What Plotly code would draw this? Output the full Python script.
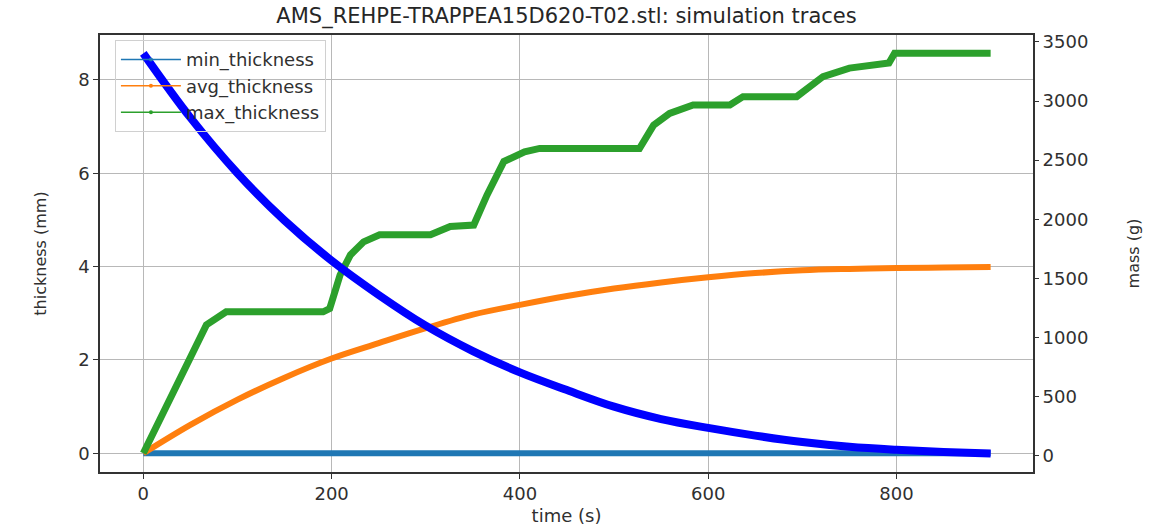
import plotly.graph_objects as go

# ---- data ----
time_s = [0, 50, 100, 150, 200, 250, 300, 350, 400, 450, 500, 550, 600, 650, 700, 750, 800, 850, 900]
min_thickness = [0] * len(time_s)
avg_thickness = [0, 0.61, 1.15, 1.62, 2.03, 2.36, 2.68, 2.97, 3.18, 3.37, 3.53, 3.66, 3.77, 3.86, 3.92, 3.95, 3.97, 3.98, 3.99]
mass_g = [3404, 2860, 2390, 1990, 1650, 1360, 1100, 885, 705, 555, 415, 310, 235, 170, 115, 75, 50, 32, 18]

max_time = [0, 67, 88, 191, 198, 209, 220, 234, 251, 305, 326, 351, 365, 383, 405, 421, 527, 542, 559, 584,
            623, 637, 694, 722, 750, 786, 792, 798, 900]
max_thickness = [0, 2.75, 3.03, 3.03, 3.10, 3.82, 4.25, 4.53, 4.68, 4.68, 4.86, 4.89, 5.53, 6.25, 6.46, 6.53,
                 6.53, 7.03, 7.28, 7.46, 7.46, 7.64, 7.64, 8.07, 8.25, 8.36, 8.36, 8.57, 8.57]

x_ticks = [0, 200, 400, 600, 800]
y_ticks = [0, 2, 4, 6, 8]
y2_ticks = [0, 500, 1000, 1500, 2000, 2500, 3000, 3500]

C_MIN = "#1f77b4"
C_AVG = "#ff7f0e"
C_MAX = "#2ca02c"
C_MASS = "#0000ff"

fig = go.Figure()

fig.add_trace(go.Scatter(x=time_s, y=min_thickness, mode="lines", line=dict(color=C_MIN, width=6),
                         showlegend=False, name="min_thickness"))
fig.add_trace(go.Scatter(x=time_s, y=avg_thickness, mode="lines", line=dict(color=C_AVG, width=6, shape="spline"),
                         showlegend=False, name="avg_thickness"))
fig.add_trace(go.Scatter(x=max_time, y=max_thickness, mode="lines", line=dict(color=C_MAX, width=7),
                         showlegend=False, name="max_thickness"))
fig.add_trace(go.Scatter(x=time_s, y=mass_g, mode="lines", line=dict(color=C_MASS, width=8, shape="spline"),
                         yaxis="y2", showlegend=False, name="mass"))

# legend entries (thin lines with small markers like matplotlib)
for name, col in [("min_thickness", C_MIN), ("avg_thickness", C_AVG), ("max_thickness", C_MAX)]:
    fig.add_trace(go.Scatter(x=[None], y=[None], mode="lines+markers", name=name,
                             line=dict(color=col, width=1.5), marker=dict(color=col, size=4)))

font_family = "DejaVu Sans, Verdana, sans-serif"
tick_font = dict(family=font_family, size=18, color="#303030")

fig.update_layout(
    width=1153, height=528,
    margin=dict(l=100, r=120, t=35, b=56),
    paper_bgcolor="white", plot_bgcolor="white",
    title=dict(text="AMS_REHPE-TRAPPEA15D620-T02.stl: simulation traces",
               x=(100 + 1033) / 2 / 1153, xanchor="center", y=1 - 16 / 528, yanchor="middle",
               font=dict(family=font_family, size=21, color="#262626")),
    font=dict(family=font_family, color="#262626"),
    xaxis=dict(range=[-46, 945], tickvals=x_ticks, showgrid=True, gridcolor="#b8b8b8", gridwidth=1,
               zeroline=False, showline=True, linecolor="#333", linewidth=1.5, mirror=True, automargin=False,
               ticks="outside", ticklen=5, tickcolor="#333", tickfont=tick_font,
               title=dict(text="time (s)", standoff=6, font=dict(family=font_family, size=18, color="#303030"))),
    yaxis=dict(range=[-0.40, 8.96], tickvals=y_ticks, showgrid=True, gridcolor="#b8b8b8", gridwidth=1,
               zeroline=False, showline=True, linecolor="#333", linewidth=1.5, mirror=True, automargin=False,
               ticks="outside", ticklen=5, tickcolor="#333", tickfont=tick_font,
               title=dict(text="thickness (mm)", standoff=28, font=dict(family=font_family, size=16, color="#303030"))),
    yaxis2=dict(range=[-138, 3559], tickvals=y2_ticks, overlaying="y", side="right", showgrid=False,
                zeroline=False, showline=False, automargin=False, ticks="outside", ticklen=5, tickcolor="#333",
                tickfont=tick_font,
                title=dict(text="mass (g)", standoff=40, font=dict(family=font_family, size=16, color="#303030"))),
    legend=dict(x=0.016, y=0.988, xanchor="left", yanchor="top", bgcolor="rgba(255,255,255,0)",
                bordercolor="#d0d0d0", borderwidth=1, font=dict(family=font_family, size=18, color="#303030"),
                tracegroupgap=0, itemwidth=60),
)

# semi-opaque legend background drawn under the traces (the mass line passes over the legend in the reference)
fig.add_shape(type="rect", xref="paper", yref="paper", x0=0.016, x1=0.243, y0=0.776, y1=0.988,
              fillcolor="rgba(255,255,255,0.8)", line=dict(width=0), layer="between")

# remove the default 8px page margin so the figure fills the window exactly
fig.write_html("out.html", config={"displayModeBar": False},
               post_script="document.body.style.margin='0';")
